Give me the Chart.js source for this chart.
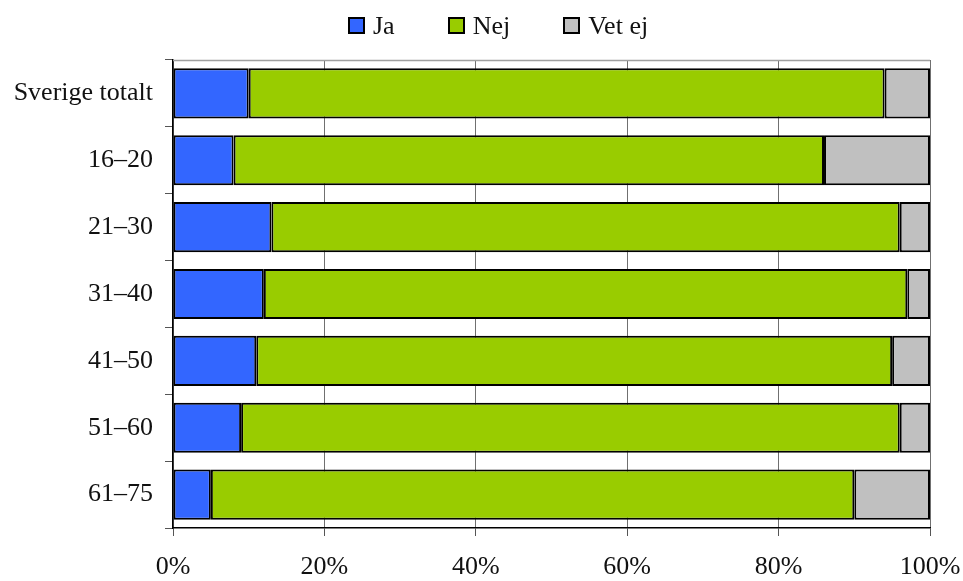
<!DOCTYPE html>
<html>
<head>
<meta charset="utf-8">
<script src="https://cdn.jsdelivr.net/npm/chart.js@4"></script>
<style>
  html, body { margin: 0; padding: 0; background: #fff; }
  #wrap { position: relative; width: 963px; height: 581px; }
  #legend {
    position: absolute; left: 348px; top: 10px;
    display: flex; align-items: center;
    font-family: 'Liberation Serif', 'DejaVu Serif', serif;
    font-size: 26px; color: #111; line-height: 32px;
  }
  #legend .item { display: flex; align-items: center; margin-right: 53px; }
  #legend .box {
    width: 13px; height: 13px; border: 2px solid #000;
    margin-right: 8px; margin-top: -2px;
  }
</style>
</head>
<body>
<div id="wrap">
  <div id="legend"></div>
  <canvas id="chart"></canvas>
</div>
<script>
const categories = ["Sverige totalt", "16–20", "21–30", "31–40", "41–50", "51–60", "61–75"];
const ja = [10, 8, 13, 12, 11, 9, 5];
const nej = [84, 78, 83, 85, 84, 87, 85];
const vetEj = [6, 14, 4, 3, 5, 4, 10];
const xTicks = [0, 20, 40, 60, 80, 100];

const serif = "'Liberation Serif', 'DejaVu Serif', serif";

// grey line along the top of the plot area
const topLine = {
    id: 'topLine',
    afterDraw(chart) {
        const a = chart.chartArea;
        const ctx = chart.ctx;
        ctx.save();
        ctx.strokeStyle = '#a0a0a0';
        ctx.lineWidth = 1.5;
        ctx.beginPath();
        ctx.moveTo(a.left, a.top + 0.5);
        ctx.lineTo(a.right, a.top + 0.5);
        ctx.stroke();
        ctx.restore();
    }
};

const chart = new Chart(document.getElementById('chart'), {
    type: 'bar',
    data: {
        labels: categories,
        datasets: [
            { label: 'Ja', data: ja, backgroundColor: '#3366ff' },
            { label: 'Nej', data: nej, backgroundColor: '#99cc00' },
            { label: 'Vet ej', data: vetEj, backgroundColor: '#c0c0c0' }
        ].map(d => Object.assign(d, {
            borderColor: '#000',
            borderWidth: 2,
            borderSkipped: false,
            categoryPercentage: 0.75,
            barPercentage: 1
        }))
    },
    options: {
        indexAxis: 'y',
        responsive: true,
        maintainAspectRatio: false,
        animation: false,
        layout: { padding: { top: 60, right: 33, bottom: 0, left: 0 } },
        plugins: {
            legend: { display: false },
            tooltip: { enabled: false }
        },
        scales: {
            x: {
                stacked: true,
                min: 0,
                max: 100,
                afterBuildTicks(scale) {
                    scale.ticks = xTicks.map(v => ({ value: v }));
                },
                afterFit(scale) {
                    scale.height = 53;
                    scale.paddingLeft = 0;
                    scale.paddingRight = 0;
                },
                ticks: {
                    font: { family: serif, size: 26 },
                    color: '#111',
                    padding: 16,
                    maxRotation: 0,
                    callback: v => v + '%'
                },
                grid: {
                    color: '#707070',
                    lineWidth: 1,
                    tickLength: 8,
                    tickColor: '#555'
                },
                border: { color: '#000', width: 1.5 }
            },
            y: {
                stacked: true,
                offset: true,
                afterFit(scale) { scale.width = 173; },
                ticks: {
                    font: { family: serif, size: 26 },
                    color: '#111',
                    padding: 12
                },
                grid: {
                    offset: true,
                    drawOnChartArea: false,
                    tickLength: 8,
                    tickColor: '#555'
                },
                border: { color: '#000', width: 1.5 }
            }
        }
    },
    plugins: [topLine]
});

// HTML legend built from the datasets
const legend = document.getElementById('legend');
chart.data.datasets.forEach(d => {
    const item = document.createElement('div');
    item.className = 'item';
    const box = document.createElement('span');
    box.className = 'box';
    box.style.background = d.backgroundColor;
    const txt = document.createElement('span');
    txt.textContent = d.label;
    item.appendChild(box);
    item.appendChild(txt);
    legend.appendChild(item);
});
</script>
</body>
</html>
